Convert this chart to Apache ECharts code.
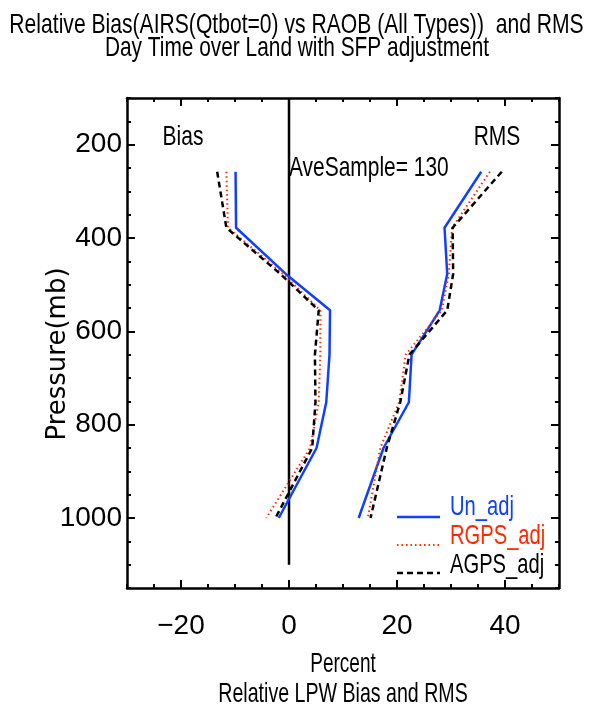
<!DOCTYPE html>
<html>
<head>
<meta charset="utf-8">
<script src="https://cdn.jsdelivr.net/npm/echarts@6/dist/echarts.min.js"></script>
<style>
  html, body { margin: 0; padding: 0; background: #fff; }
  #chart { width: 593px; height: 711px; }
</style>
</head>
<body>
<div id="chart"></div>
<script>
// Pressure levels (mb) shared by every profile
const levels = [258, 378, 477, 555, 650, 752, 850, 1000];

// Relative LPW bias (%)
const biasUnAdj   = [-9.9, -9.8, -0.6, 7.6, 7.5, 6.9, 5.1, -1.9];
const biasRgpsAdj = [-11.6, -11.3, -1.1, 5.8, 5.8, 5.5, 3.9, -4.2];
const biasAgpsAdj = [-13.3, -11.6, -1.6, 5.5, 4.8, 4.9, 4.3, -2.5];

// Relative LPW RMS (%)
const rmsUnAdj   = [35.6, 28.8, 29.3, 27.9, 22.7, 22.2, 17.5, 12.9];
const rmsRgpsAdj = [37.2, 30.2, 29.6, 28.3, 21.6, 20.4, 16.9, 14.6];
const rmsAgpsAdj = [39.4, 30.3, 30.4, 29.3, 22.3, 20.6, 18.1, 15.1];

// Zero reference line
const zeroLineX = [0, 0];
const zeroLineP = [100, 1100];

// Axis ranges and labelled ticks
const xRange = [-30, 50];
const xLabelTicks = [-20, 0, 20, 40];
const yRange = [100, 1150];
const yLabelTicks = [200, 400, 600, 800, 1000];

const seriesNames = ['Un_adj', 'RGPS_adj', 'AGPS_adj'];
const titleLines = [
  'Relative Bias(AIRS(Qtbot=0) vs RAOB (All Types))  and RMS',
  'Day Time over Land with SFP adjustment'
];
const xNameLines = ['Percent', 'Relative LPW Bias and RMS'];
const yName = 'Pressure(mb)';
const sampleText = 'AveSample= 130';

const BLUE = '#1040ff';
const RED = '#ff2a00';
const BLACK = '#000000';
const REG = '"Liberation Sans", Arial, sans-serif';
const FONT28 = '28px ' + REG;

const pairs = (xs, ps) => xs.map((v, i) => [v, ps[i]]);

const styles = [
  { color: BLUE, width: 2.5, type: 'solid' },
  { color: RED, width: 2, type: [1.5, 3] },
  { color: BLACK, width: 2.5, type: [6, 4] }
];

function profile(name, xs, st) {
  return {
    name: name,
    type: 'line',
    xAxisIndex: 0,
    yAxisIndex: 0,
    data: pairs(xs, levels),
    symbol: 'none',
    silent: true,
    lineStyle: { color: st.color, width: st.width, type: st.type, cap: 'butt' },
    z: 3
  };
}

function xAxisDef(position, majors, length, showLabel, showLine) {
  const a = {
    type: 'value',
    position: position,
    min: xRange[0],
    max: xRange[1],
    interval: 5,
    splitLine: { show: false },
    axisLine: { show: showLine, onZero: false, lineStyle: { color: '#000', width: 2.5 } },
    axisTick: { show: true, inside: true, length: length, lineStyle: { color: '#000', width: 2 } },
    axisLabel: { show: false }
  };
  if (majors) a.axisTick.customValues = xLabelTicks;
  if (showLabel) {
    a.axisLabel = {
      show: true, customValues: xLabelTicks, margin: 24,
      fontFamily: REG, fontSize: 28, color: '#000',
      formatter: v => (v < 0 ? '\u2212' + Math.abs(v) : String(v))
    };
  }
  return a;
}

function yAxisDef(position, majors, length, showLabel, showLine) {
  const a = {
    type: 'value',
    position: position,
    inverse: true,
    min: yRange[0],
    max: yRange[1],
    interval: 50,
    splitLine: { show: false },
    axisLine: { show: showLine, onZero: false, lineStyle: { color: '#000', width: 2.5 } },
    axisTick: { show: true, inside: true, length: length, lineStyle: { color: '#000', width: 2 } },
    axisLabel: { show: false }
  };
  if (majors) a.axisTick.customValues = yLabelTicks;
  if (showLabel) {
    a.axisLabel = {
      show: true, customValues: yLabelTicks, margin: 5,
      fontFamily: REG, fontSize: 28, color: '#000',
      formatter: v => String(v)
    };
  }
  return a;
}

// Horizontally condensed text, in the spirit of a plotter stroke font
function label(text, x, y, sx, align, color, extra) {
  return Object.assign({
    type: 'text', x: x, y: y, scaleX: sx, scaleY: 1,
    style: { text: text, font: FONT28, fill: color || '#000', textAlign: align || 'center', textVerticalAlign: 'middle' },
    z: 10
  }, extra || {});
}

const chart = echarts.init(document.getElementById('chart'), null, { renderer: 'canvas' });

const legendRows = [
  { y: 517, ty: 507, st: styles[0] },
  { y: 545, ty: 536, st: styles[1] },
  { y: 573, ty: 565, st: styles[2] }
];

const legendGraphics = [];
legendRows.forEach((r, i) => {
  legendGraphics.push({
    type: 'line',
    shape: { x1: 397, y1: r.y, x2: 440, y2: r.y },
    style: { stroke: r.st.color, lineWidth: r.st.width, lineDash: r.st.type === 'solid' ? null : r.st.type },
    z: 10
  });
  legendGraphics.push(label(seriesNames[i], 450, r.ty, 0.72, 'left', r.st.color));
});

const option = {
  animation: false,
  backgroundColor: '#fff',
  grid: { left: 127, right: 34, top: 98, bottom: 123, outerBoundsMode: 'none' },
  xAxis: [
    xAxisDef('bottom', true, 8, true, true),
    xAxisDef('bottom', false, 4, false, false),
    xAxisDef('top', true, 8, false, true),
    xAxisDef('top', false, 4, false, false)
  ],
  yAxis: [
    yAxisDef('left', true, 8, true, true),
    yAxisDef('left', false, 4, false, false),
    yAxisDef('right', true, 8, false, true),
    yAxisDef('right', false, 4, false, false)
  ],
  graphic: [
    label(titleLines[0], 296.5, 25, 0.754),
    label(titleLines[1], 297, 48, 0.745),
    label('Bias', 183, 137, 0.75),
    label('RMS', 497, 137, 0.75),
    label(sampleText, 289, 168, 0.748, 'left'),
    label(xNameLines[0], 343, 664, 0.68),
    label(xNameLines[1], 343, 694, 0.70),
    {
      type: 'text', x: 58, y: 354, rotation: Math.PI / 2,
      style: { text: yName, font: '26px "DejaVu Sans", sans-serif', fill: '#000', textAlign: 'center', textVerticalAlign: 'middle' },
      z: 10
    }
  ].concat(legendGraphics),
  series: [
    {
      name: 'zero', type: 'line', xAxisIndex: 0, yAxisIndex: 0,
      data: pairs(zeroLineX, zeroLineP), symbol: 'none', silent: true,
      lineStyle: { color: '#000', width: 2.5 }, z: 2
    },
    profile(seriesNames[0], biasUnAdj, styles[0]),
    profile(seriesNames[1], biasRgpsAdj, styles[1]),
    profile(seriesNames[2], biasAgpsAdj, styles[2]),
    profile(seriesNames[0], rmsUnAdj, styles[0]),
    profile(seriesNames[1], rmsRgpsAdj, styles[1]),
    profile(seriesNames[2], rmsAgpsAdj, styles[2])
  ]
};

chart.setOption(option);
</script>
</body>
</html>
